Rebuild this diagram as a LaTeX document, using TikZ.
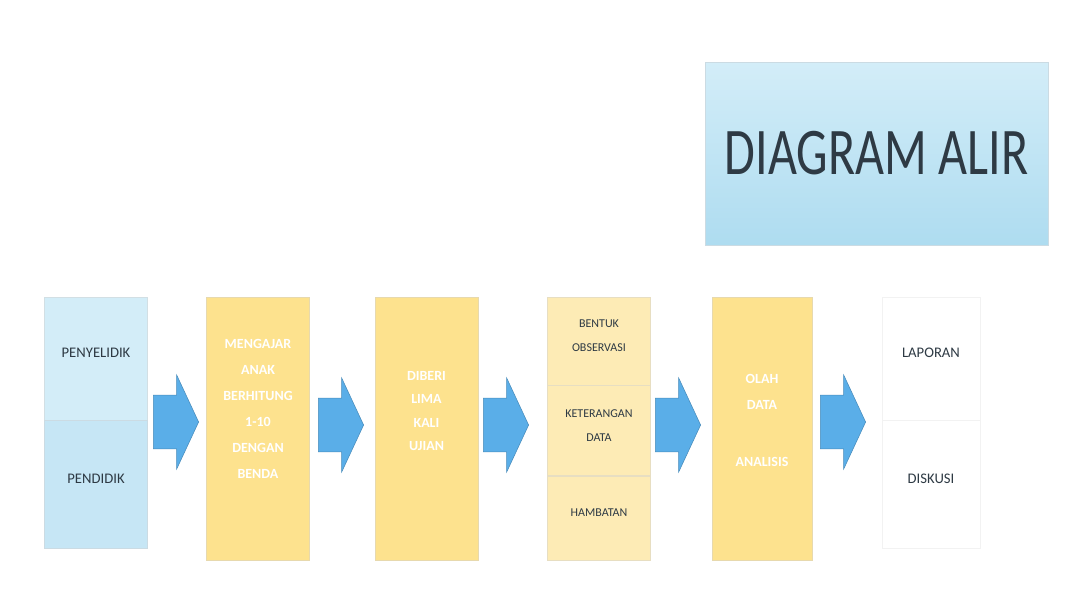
\documentclass[tikz,border=0pt]{standalone}
\usepackage{fontspec}
\setmainfont{Carlito}
\usetikzlibrary{positioning,shapes.arrows,calc}
\definecolor{biruMuda}{HTML}{C6E6F5}
\definecolor{biruAtas}{HTML}{D3EDF8}
\definecolor{biruBawah}{HTML}{AEDCF0}
\definecolor{biruPanah}{HTML}{5AAEE8}
\definecolor{kuning}{HTML}{FDE28E}
\definecolor{kuningMuda}{HTML}{FDEBB5}
\definecolor{teksGelap}{HTML}{2E3A44}
\tikzset{
  kotak/.style={
    rectangle,
    draw=#1!85!black!60, thin,
    fill=#1,
    minimum width=77pt,
    minimum height=197pt,
    align=center,
    inner sep=0pt},
  teksPutih/.style={
    align=center, text=white,
    font=\fontsize{10.5}{19.5}\selectfont\bfseries},
  teksHitam/.style={
    align=center, text=teksGelap, font=\fontsize{9}{18}\selectfont},
  panah/.style={
    single arrow,
    anchor=west,
    fill=biruPanah,
    draw=biruPanah!80!black,
    inner sep=0pt,
    minimum height=34pt,
    single arrow head extend=15pt,
    single arrow tip angle=130,
    text width=0pt, text height=20pt, text depth=20pt},
}
\begin{document}
\begin{tikzpicture}[x=0.75pt,y=-0.75pt]
  \useasboundingbox (0,0) rectangle (1068,614);
  % judul
  \node[kotak=biruMuda, top color=biruAtas, bottom color=biruBawah,
        minimum width=257pt, minimum height=137pt] (judul) at (876.5,153.5)
    {\fontsize{50}{50}\selectfont\color{teksGelap}\scalebox{0.75}[1]{DIAGRAM ALIR}};
  % kotak 1
  \node[kotak=biruAtas, minimum height=92pt] (b1atas) at (96,358.5) {};
  \node[kotak=biruMuda, minimum height=96pt, below=0pt of b1atas] (b1bawah) {};
  \node[teksHitam, font=\fontsize{11}{11}\selectfont] at ([yshift=4pt]b1atas.center)
    {PENYELIDIK};
  \node[teksHitam, font=\fontsize{11}{11}\selectfont] at ([yshift=4pt]b1bawah.center)
    {PENDIDIK};
  % kotak 2, 3, 5
  \node[kotak=kuning] (b2) at (258,428.5) {};
  \node[teksPutih] (t2) at ([yshift=15pt]b2.center)
    {MENGAJAR\\ANAK\\BERHITUNG\\1-10\\DENGAN\\BENDA};
  \node[kotak=kuning] (b3) at (426.5,428.5) {};
  \node[teksPutih, font=\fontsize{10.5}{17.5}\selectfont\bfseries] (t3)
    at ([yshift=13pt]b3.center) {DIBERI\\LIMA\\KALI\\UJIAN};
  \node[kotak=kuning, minimum width=75pt] (b5) at (762,428.5) {};
  \node[teksPutih] (t5) at ([yshift=6pt]b5.center)
    {OLAH\\DATA\\[23pt]ANALISIS};
  % kotak 4
  \node[kotak=kuningMuda, minimum height=66pt] (b4a) at (599,341) {};
  \node[kotak=kuningMuda, minimum height=67.5pt, below=0pt of b4a] (b4b) {};
  \node[kotak=kuningMuda, minimum height=63.5pt, below=0pt of b4b] (b4c) {};
  \node[teksHitam] at ([yshift=4pt]b4a.center) {BENTUK\\OBSERVASI};
  \node[teksHitam] at ([yshift=4pt]b4b.center) {KETERANGAN\\DATA};
  \node[teksHitam] at ([yshift=4pt]b4c.center) {HAMBATAN};
  % kotak 6
  \node[kotak=white, draw=gray!10, minimum width=73.5pt,
        minimum height=92pt] (b6atas) at (931,358.5) {};
  \node[kotak=white, draw=gray!10, minimum width=73.5pt,
        minimum height=96pt, below=0pt of b6atas] (b6bawah) {};
  \node[teksHitam, font=\fontsize{11}{11}\selectfont] at ([yshift=4pt]b6atas.center)
    {LAPORAN};
  \node[teksHitam, font=\fontsize{11}{11}\selectfont] at ([yshift=4pt]b6bawah.center)
    {DISKUSI};
  % panah
  \node[panah] (p1) at (153,422) {};
  \node[panah] (p2) at (318,425) {};
  \node[panah] (p3) at (483,425) {};
  \node[panah] (p4) at (655,425) {};
  \node[panah] (p5) at (820,422) {};
\end{tikzpicture}
\end{document}
